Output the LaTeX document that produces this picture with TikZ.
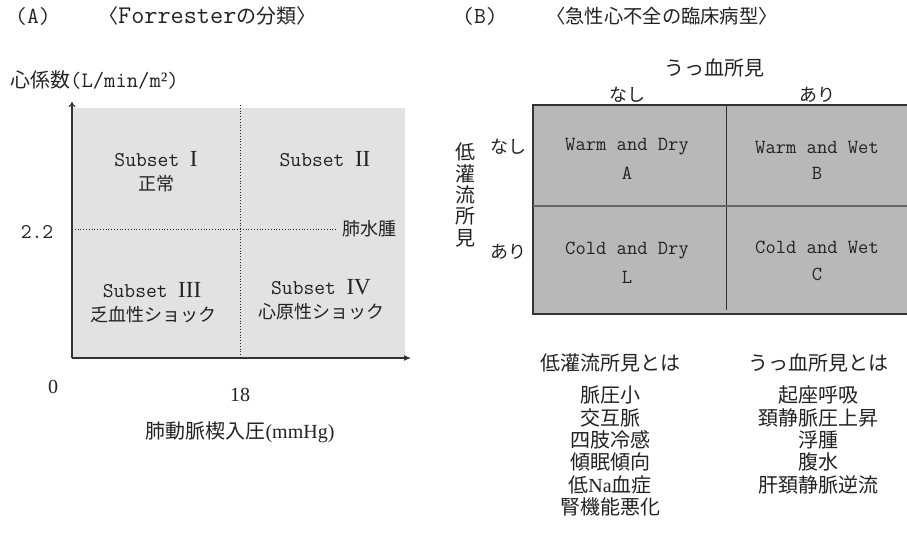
\documentclass[tikz,border=0pt]{standalone}
\usepackage{fontspec}
\setmainfont{Liberation Serif}
\newfontfamily\jp{Noto Sans CJK JP}
\newcommand\mono{\ttfamily}
\usetikzlibrary{arrows.meta}
\definecolor{ink}{HTML}{222222}
\definecolor{fillA}{HTML}{E2E2E2}
\definecolor{fillB}{HTML}{B8B8B8}
\definecolor{edgeB}{HTML}{333333}
\begin{document}
\begin{tikzpicture}[x=1pt,y=-1pt,
  lbl/.style={inner sep=0pt, text=ink, align=center},
  ttl/.style={lbl, font=\fontsize{20}{24}\selectfont},
  big/.style={lbl, font=\fontsize{20}{24}\selectfont},
  sub/.style={lbl, font=\fontsize{21}{24}\selectfont},
  mid/.style={lbl, font=\fontsize{18}{22}\selectfont},
  cell/.style={lbl, font=\fontsize{20}{24}\selectfont},
  axis/.style={line width=1.1pt, draw=black!80},
  guide/.style={dotted, line width=0.8pt, draw=black!85}
]
\useasboundingbox (0,0) rectangle (907,545);

% ---------------- Panel A ----------------
\node[ttl, font=\fontsize{23}{26}\selectfont] (tA) at (33,16) {\mono (A)};
\node[ttl, anchor=west] (tAname) at (98,16) {{\jp 〈}{\fontsize{25.5}{28}\selectfont\mono Forrester}{\jp の分類〉}};
\node[big, anchor=west] (ylab) at (10,80) {{\jp 心係数}{\fontsize{22}{26}\selectfont\mono (L/min/m{\rmfamily ²})}};

\fill[fillA] (72,108) rectangle (405,358);
\coordinate (org) at (72,358);
\coordinate (ytip) at (72,102);
\coordinate (xtip) at (411,358);
\draw[axis, -{To[length=5pt,width=7pt]}] (org) -- (ytip);
\draw[axis, -{Latex[length=7pt,width=6pt]}] (org) -- (xtip);

\coordinate (vtop) at (240,105);
\coordinate (vbot) at (240,358);
\draw[guide] (vtop) -- (vbot);
\coordinate (hl) at (72,229);
\coordinate (hr) at (337,229);
\draw[guide] (hl) -- (hr);
\node[mid, anchor=west] (edema) at (342,229) {\jp 肺水腫};

\node[sub] (v22) at (37,232) {\mono 2.2};
\node[big] (v0) at (53,387) {0};
\node[big] (v18) at (240,395) {18};
\node[big] (xlab) at (240,432) {{\jp 肺動脈楔入圧}(mmHg)};

\node[sub] (s1) at (156,159) {{\mono Subset} \ {\fontsize{23}{26}\selectfont I}};
\node[mid] (s1b) at (156,184) {\jp 正常};
\node[sub] (s2) at (325,159) {{\mono Subset} \ {\fontsize{23}{26}\selectfont II}};
\node[sub] (s3) at (152,290) {{\mono Subset} \ {\fontsize{23}{26}\selectfont III}};
\node[mid] (s3b) at (153,315) {\jp 乏血性ショック};
\node[sub] (s4) at (321,287) {{\mono Subset} \ {\fontsize{23}{26}\selectfont IV}};
\node[mid] (s4b) at (321,312) {\jp 心原性ショック};

% ---------------- Panel B ----------------
\node[ttl, font=\fontsize{23}{26}\selectfont] (tB) at (480,16) {\mono (B)};
\node[ttl, anchor=west, font=\fontsize{19.3}{23}\selectfont] (tBname) at (546,16) {\jp 〈急性心不全の臨床病型〉};

\node[big] (cong) at (714,68) {\jp うっ血所見};
\node[mid] (nashiT) at (627,95) {\jp なし};
\node[mid] (ariT) at (817,95) {\jp あり};

\begin{scope}
\clip (0,0) rectangle (907,545);
\fill[fillB] (533,105) rectangle (912,314);
\draw[line width=1.5pt, draw=edgeB] (912,105) -- (533,105) -- (533,314) -- (912,314);
\coordinate (dvt) at (726,105);
\coordinate (dvb) at (726,310);
\draw[line width=1pt, draw=edgeB] (dvt) -- (dvb);
\coordinate (dhl) at (533,206);
\coordinate (dhr) at (912,206);
\draw[line width=1.5pt, draw=black!60] (dhl) -- (dhr);
\end{scope}

\node[mid] (nashiL) at (508,147) {\jp なし};
\node[mid] (ariL) at (508,252) {\jp あり};
\node[big, font=\fontsize{20}{21.3}\selectfont] (perf) at (465,195) {\jp 低\\\jp 灌\\\jp 流\\\jp 所\\\jp 見};

\node[cell] (cA) at (627,147) {\mono Warm and Dry};
\node[cell] (cAl) at (627,173) {\mono A};
\node[cell] (cB) at (817,147) {\mono Warm and Wet};
\node[cell] (cBl) at (817,173) {\mono B};
\node[cell] (cL) at (627,251) {\mono Cold and Dry};
\node[cell] (cLl) at (627,277) {\mono L};
\node[cell] (cC) at (817,247) {\mono Cold and Wet};
\node[cell] (cCl) at (817,274) {\mono C};

\node[big] (hL) at (610,363) {\jp 低灌流所見とは};
\node[big] (hR) at (818,363) {\jp うっ血所見とは};

\foreach \t [count=\i] in {脈圧小,交互脈,四肢冷感,傾眠傾向,{低{\rmfamily Na}血症},腎機能悪化}
  \node[big] (l\i) at (610,{373+22.3*\i}) {\jp \t};
\foreach \t [count=\i] in {起座呼吸,頚静脈圧上昇,浮腫,腹水,肝頚静脈逆流}
  \node[big] (r\i) at (818,{373+22.3*\i}) {\jp \t};
\end{tikzpicture}
\end{document}
